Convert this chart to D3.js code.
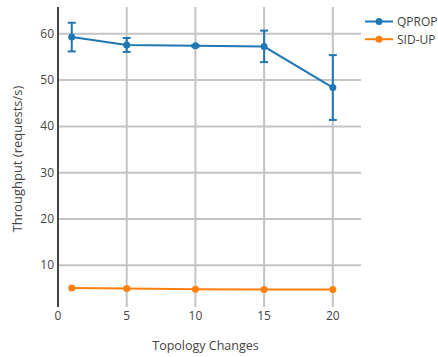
<!DOCTYPE html>
<html><head><meta charset="utf-8">
<script src="https://cdn.jsdelivr.net/npm/d3@7"></script>
<style>body{margin:0;background:#fff}svg{display:block}text{font-family:"Open Sans",sans-serif;fill:#444}</style>
</head><body><svg id="c" width="438" height="357"></svg>
<script>
const xValues = [1, 5, 10, 15, 20];
const qpropValues = [59.3, 57.6, 57.4, 57.25, 48.4];
const qpropErrPlus = [3.1, 1.5, 0.2, 3.45, 7.0];
const qpropErrMinus = [3.1, 1.5, 0.2, 3.35, 7.0];
const sidupValues = [5.1, 4.95, 4.8, 4.73, 4.73];
const xTicks = [0, 5, 10, 15, 20];
const yTicks = [10, 20, 30, 40, 50, 60];
const seriesNames = ["QPROP", "SID-UP"];
const seriesColors = ["#1f77b4", "#ff7f0e"];

const svg = d3.select("#c");
const L = 58, R = 361, T = 7, B = 307;
const x = d3.scaleLinear().domain([0, 22.05]).range([L, R]);
const y = d3.scaleLinear().domain([0.97, 65.8]).range([B, T]);

// grid
svg.append("g").selectAll("line").data(xTicks.filter(d => d > 0)).join("line")
  .attr("x1", d => x(d)).attr("x2", d => x(d)).attr("y1", T).attr("y2", B)
  .attr("stroke", "#c4c4c4").attr("stroke-width", 2);
svg.append("g").selectAll("line").data(yTicks).join("line")
  .attr("x1", L).attr("x2", R).attr("y1", d => y(d)).attr("y2", d => y(d))
  .attr("stroke", "#c4c4c4").attr("stroke-width", 2);

// axis line
svg.append("line").attr("x1", L).attr("x2", L).attr("y1", T).attr("y2", B)
  .attr("stroke", "#444").attr("stroke-width", 2);

// tick labels
svg.append("g").selectAll("text").data(xTicks).join("text")
  .attr("x", d => x(d)).attr("y", 320).attr("text-anchor", "middle")
  .attr("font-size", 12).text(d => d);
svg.append("g").selectAll("text").data(yTicks).join("text")
  .attr("x", L - 4).attr("y", d => y(d) + 4).attr("text-anchor", "end")
  .attr("font-size", 12).text(d => d);

// titles
svg.append("text").attr("x", 205.5).attr("y", 350).attr("text-anchor", "middle")
  .attr("font-size", 12.5).text("Topology Changes");
svg.append("text").attr("transform", `translate(22,159) rotate(-90)`)
  .attr("text-anchor", "middle").attr("font-size", 13).text("Throughput (requests/s)");

const line = d3.line().x(d => x(d[0])).y(d => y(d[1]));

// error bars QPROP
const eg = svg.append("g").attr("stroke", seriesColors[0]).attr("stroke-width", 2);
xValues.forEach((xv, i) => {
  const top = qpropValues[i] + qpropErrPlus[i], bot = qpropValues[i] - qpropErrMinus[i];
  eg.append("line").attr("x1", x(xv)).attr("x2", x(xv)).attr("y1", y(top)).attr("y2", y(bot));
  eg.append("line").attr("x1", x(xv) - 4).attr("x2", x(xv) + 4).attr("y1", y(top)).attr("y2", y(top));
  eg.append("line").attr("x1", x(xv) - 4).attr("x2", x(xv) + 4).attr("y1", y(bot)).attr("y2", y(bot));
});

[qpropValues, sidupValues].forEach((vals, s) => {
  const pts = xValues.map((xv, i) => [xv, vals[i]]);
  svg.append("path").attr("d", line(pts)).attr("fill", "none")
    .attr("stroke", seriesColors[s]).attr("stroke-width", 2);
  svg.append("g").selectAll("circle").data(pts).join("circle")
    .attr("cx", d => x(d[0])).attr("cy", d => y(d[1])).attr("r", 3.5)
    .attr("fill", seriesColors[s]);
});

// legend
seriesNames.forEach((n, i) => {
  const ly = 21.5 + i * 17.7;
  const g = svg.append("g");
  g.append("line").attr("x1", 365).attr("x2", 393).attr("y1", ly).attr("y2", ly)
    .attr("stroke", seriesColors[i]).attr("stroke-width", 2);
  g.append("circle").attr("cx", 379).attr("cy", ly).attr("r", 3.5).attr("fill", seriesColors[i]);
  g.append("text").attr("x", 397).attr("y", ly + 4.5).attr("font-size", 12).text(n);
});
</script></body></html>
